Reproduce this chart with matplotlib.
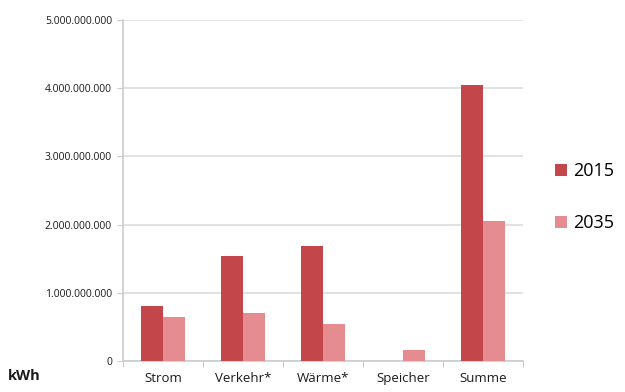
import numpy as np
import matplotlib
matplotlib.use("Agg")
import matplotlib.pyplot as plt
from matplotlib.ticker import FuncFormatter, FixedLocator

plt.rcParams["font.family"] = ["Open Sans", "DejaVu Sans"]

categories = ["Strom", "Verkehr*", "Wärme*", "Speicher", "Summe"]
years = ["2015", "2035"]
kwh_2015 = [0.80e9, 1.54e9, 1.69e9, 0.0, 4.05e9]
kwh_2035 = [0.645e9, 0.71e9, 0.54e9, 0.16e9, 2.05e9]
colors = ["#C2464A", "#E48C8F"]

fig = plt.figure(figsize=(6.25, 3.92), dpi=100)
ax = fig.add_axes([0.197, 0.079, 0.640, 0.870])

x = np.arange(len(categories))
w = 0.275
ax.bar(x - w / 2, kwh_2015, width=w, color=colors[0], label=years[0], zorder=3)
ax.bar(x + w / 2, kwh_2035, width=w, color=colors[1], label=years[1], zorder=3)

ax.set_xlim(-0.5, len(categories) - 0.5)
ax.set_ylim(0, 5e9)
ax.set_yticks(np.arange(0, 5.01e9, 1e9))
ax.yaxis.set_major_formatter(FuncFormatter(lambda v, _: f"{int(round(v)):,}".replace(",", ".")))
ax.set_xticks(x)
ax.set_xticklabels(categories, fontsize=9.5)
ax.xaxis.set_minor_locator(FixedLocator(np.arange(-0.5, len(categories), 1.0)))
ax.tick_params(axis="x", which="major", length=0, pad=8, colors="#1A1A1A")
ax.tick_params(axis="x", which="minor", length=4, color="#BBBBBB")
ax.tick_params(axis="y", length=4, color="#CCCCCC", labelsize=7.5, colors="#1A1A1A", pad=4)

ax.grid(axis="y", color="#DDDDDD", linewidth=1.2, zorder=0)
for s in ["top", "right"]:
    ax.spines[s].set_visible(False)
for s in ["left", "bottom"]:
    ax.spines[s].set_color("#CCCCCC")
    ax.spines[s].set_linewidth(1.2)

fig.text(0.013, 0.03, "kWh", fontsize=10.5, fontweight="bold", color="#1A1A1A")

ax.legend(loc="center left", bbox_to_anchor=(1.04, 0.48), frameon=False, fontsize=13,
          handlelength=0.65, handleheight=0.65, handletextpad=0.35, labelspacing=1.9)

fig.savefig("out.png", dpi=100)
